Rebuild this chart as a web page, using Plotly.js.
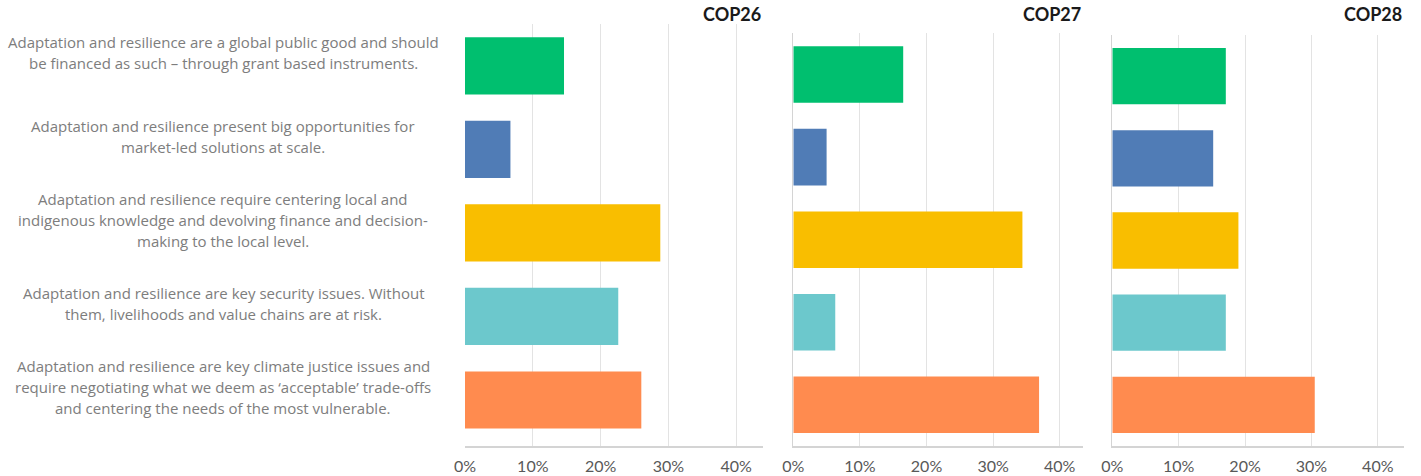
<!DOCTYPE html>
<html><head><meta charset="utf-8">
<script src="https://cdn.plot.ly/plotly-3.0.1.min.js"></script>
<style>html,body{margin:0;padding:0;background:#fff}#chart{width:1421px;height:476px}</style>
</head><body><div id="chart"></div>
<script>
const categories = [
  "Adaptation and resilience are a global public good and should<br>be financed as such – through grant based instruments.",
  "Adaptation and resilience present big opportunities for<br>market-led solutions at scale.",
  "Adaptation and resilience require centering local and<br>indigenous knowledge and devolving finance and decision-<br>making to the local level.",
  "Adaptation and resilience are key security issues. Without<br>them, livelihoods and value chains are at risk.",
  "Adaptation and resilience are key climate justice issues and<br>require negotiating what we deem as ‘acceptable’ trade-offs<br>and centering the needs of the most vulnerable."
];
const catIds = ["c1","c2","c3","c4","c5"];
const panels = ["COP26","COP27","COP28"];
const cop26 = [0.146, 0.067, 0.288, 0.226, 0.260];
const cop27 = [0.165, 0.050, 0.344, 0.063, 0.369];
const cop28 = [0.171, 0.152, 0.190, 0.171, 0.305];
const tickVals = [0, 0.1, 0.2, 0.3, 0.4];
const tickText = ["0%","10%","20%","30%","40%"];
const barColors = ["#00BF6F","#507CB6","#F9BE00","#6CC8CC","#FF8B4F"];

const W = 1421, H = 476;
const px = v => v / W, py = v => 1 - v / H;
const series = [cop26, cop27, cop28];
const xDomains = [[px(465), px(762.7)], [px(793.3), px(1082.7)], [px(1112.3), px(1403.7)]];
const yTops = [24, 33.3, 35];
const xMax = [0.439, 0.4345, 0.439];

const data = series.map((vals, i) => ({
  type: "bar", orientation: "h",
  x: vals, y: catIds,
  xaxis: i === 0 ? "x" : "x" + (i + 1),
  yaxis: i === 0 ? "y" : "y" + (i + 1),
  marker: {color: barColors, line: {width: 0}},
  hoverinfo: "x+y", showlegend: false
}));

const layout = {
  width: W, height: H,
  margin: {l: 0, r: 0, t: 0, b: 0},
  paper_bgcolor: "#fff", plot_bgcolor: "#fff",
  bargap: 0.315,
  font: {family: "Lato, 'Liberation Sans', sans-serif"},
  annotations: []
};
for (let i = 0; i < 3; i++) {
  const s = i === 0 ? "" : String(i + 1);
  layout["xaxis" + s] = {
    domain: xDomains[i], range: [0, xMax[i]], anchor: "y" + s,
    tickvals: tickVals, ticktext: tickText,
    showgrid: true, gridcolor: "#e3e3e3", gridwidth: 1,
    zeroline: false, showline: true, linecolor: "#d4d4d4", linewidth: 1.5,
    ticks: "outside", ticklen: 5, tickcolor: "rgba(0,0,0,0)",
    tickfont: {family: "Lato, sans-serif", size: 16, color: "#595959"},
    fixedrange: true
  };
  layout["yaxis" + s] = {
    domain: [py(446), py(yTops[i])], anchor: "x" + s,
    type: "category", categoryorder: "array", categoryarray: catIds,
    autorange: "reversed", showticklabels: false, ticks: "",
    showgrid: false, zeroline: false,
    showline: i > 0, linecolor: "#d4d4d4", linewidth: 1.5,
    fixedrange: true
  };
  layout.annotations.push({
    text: "<b>" + panels[i] + "</b>", xref: "paper", yref: "paper",
    x: xDomains[i][1], y: py(14), xanchor: "right", yanchor: "middle",
    showarrow: false, font: {family: "Lato, sans-serif", size: 18, color: "#1a1a1a"}
  });
}
const lineStep = 21;
categories.forEach((c, j) => {
  const lines = c.split("<br>");
  lines.forEach((ln, k) => {
    const off = (k - (lines.length - 1) / 2) * lineStep;
    layout.annotations.push({
      text: ln, xref: "paper", yref: "y", x: px(223), y: catIds[j],
      xanchor: "center", yanchor: "middle", align: "center", yshift: 13 - off,
      showarrow: false,
      font: {family: "'Open Sans', sans-serif", size: 15, color: "#7d7d7d"}
    });
  });
});
Plotly.newPlot("chart", data, layout, {displayModeBar: false, staticPlot: true});
</script></body></html>
